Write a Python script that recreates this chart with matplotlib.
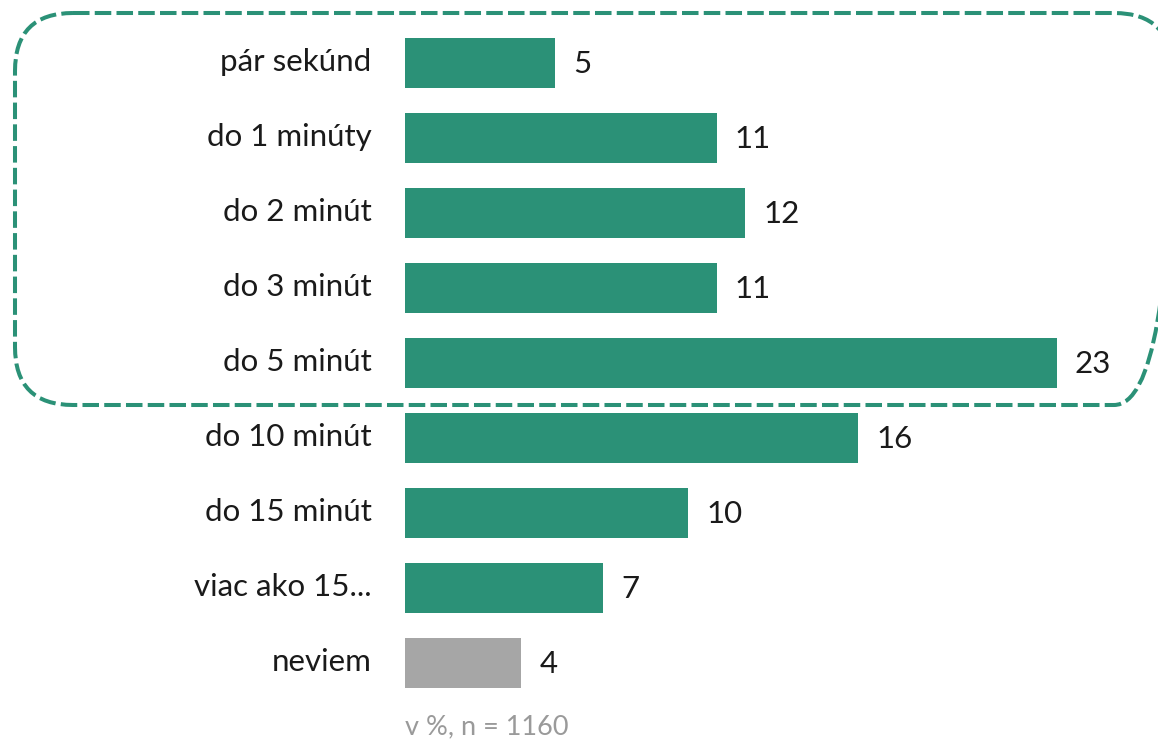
import matplotlib
matplotlib.use("Agg")
import matplotlib.pyplot as plt
import matplotlib.patches as mpatches

# ── data ──────────────────────────────────────────────────────────────────────
categories = ["pár sekúnd", "do 1 minúty", "do 2 minút", "do 3 minút",
              "do 5 minút", "do 10 minút", "do 15 minút", "viac ako 15...",
              "neviem"]
values = [5.3, 11, 12, 11, 23, 16, 10, 7, 4.1]
note = "v %, n = 1160"

GREEN = "#2b9177"
GREY = "#a6a6a6"
TEXT = "#1a1a1a"
NOTE = "#9a9a9a"
FONT = "Lato"

W, H = 1158, 739
fig = plt.figure(figsize=(W / 100, H / 100), dpi=100, facecolor="white")
plt.rcParams["font.family"] = FONT

# overlay in pixel coords for the dashed frame and note
ax_px = fig.add_axes([0, 0, 1, 1])
ax_px.set_xlim(0, W)
ax_px.set_ylim(H, 0)
ax_px.axis("off")

# main bar axes: bars start at x=405 px, 28.33 px per unit
x0 = 405
ppu = 28.33
ax = fig.add_axes([x0 / W, 0, (W - x0) / W, 1])
ax.set_xlim(0, (W - x0) / ppu)
ax.set_ylim((H - 63) / 75, -63 / 75)
ax.axis("off")

colors = [GREEN] * (len(categories) - 1) + [GREY]
ypos = list(range(len(categories)))
ax.barh(ypos, values, height=0.667, color=colors, zorder=3)

for y, v, c in zip(ypos, values, categories):
    ax.annotate(f"{v:.0f}", xy=(v, y), xytext=(13, -1), textcoords="offset points",
                ha="left", va="center", fontsize=22.5, color=TEXT)
    ax.annotate(c, xy=(0, y), xytext=(-24, 1), textcoords="offset points",
                ha="right", va="center", fontsize=22.5, color=TEXT,
                annotation_clip=False)

# dashed rounded frame around first five rows
frame = mpatches.FancyBboxPatch((15, 13), 1157, 392,
                                boxstyle="round,pad=0,rounding_size=58",
                                fill=False, edgecolor=GREEN, linewidth=2.9,
                                linestyle=(0, (4.1, 1.3)), zorder=5)
ax_px.add_patch(frame)

ax_px.text(x0, 727, note, ha="left", va="center", fontsize=19.5, color=NOTE)

fig.savefig("out.png", dpi=100, facecolor="white")
